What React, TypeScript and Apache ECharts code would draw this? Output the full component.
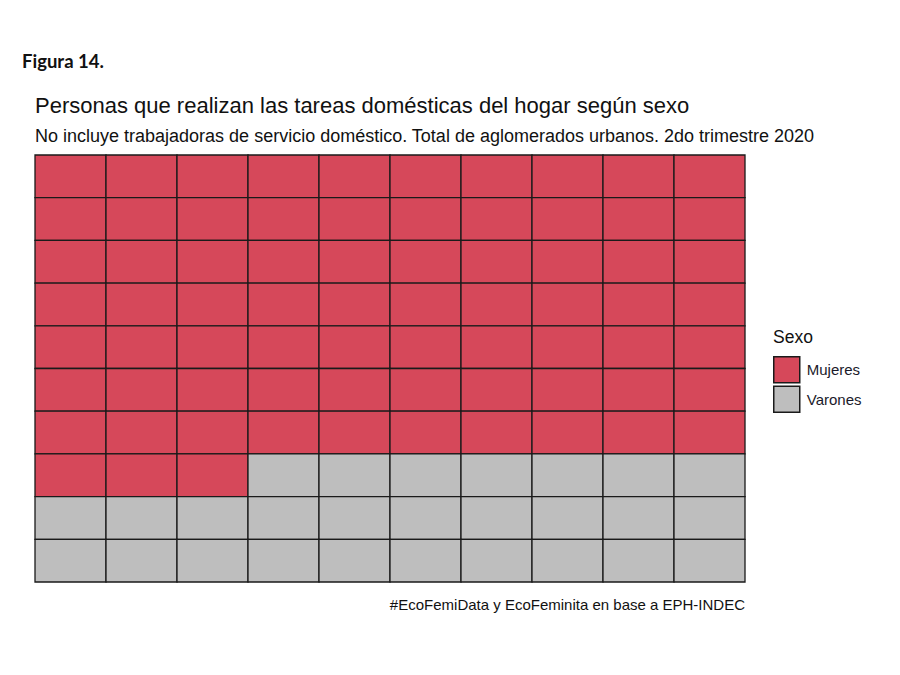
import React, { useEffect, useRef } from "react";
import * as echarts from "echarts";

const categories = ["Mujeres", "Varones"];
const counts = [73, 27];
const colors = ["#D6485A", "#BEBEBE"];
const nCols = 10;
const nRows = 10;
const colLabels = Array.from({ length: nCols }, (_, i) => String(i));
const rowLabels = Array.from({ length: nRows }, (_, i) => String(i));

function buildCells() {
  const out: number[][][] = categories.map(() => []);
  let idx = 0;
  categories.forEach((_, s) => {
    for (let k = 0; k < counts[s]; k++) {
      const row = Math.floor(idx / nCols);
      const col = idx % nCols;
      out[s].push([col, row]);
      idx++;
    }
  });
  return out;
}

export default function App() {
  const ref = useRef<HTMLDivElement>(null);
  useEffect(() => {
    if (!ref.current) return;
    const chart = echarts.init(ref.current, undefined, { renderer: "svg" });
    const cells = buildCells();
    const renderItem = (params: any, api: any) => {
      const c = api.coord([api.value(0), api.value(1)]);
      const s = api.size([1, 1]);
      return {
        type: "rect",
        shape: { x: c[0] - s[0] / 2, y: c[1] - s[1] / 2, width: s[0], height: s[1] },
        style: { fill: api.visual("color"), stroke: "#1a1a1a", lineWidth: 1.3 },
      };
    };
    chart.setOption({
      animation: false,
      backgroundColor: "#ffffff",
      textStyle: { fontFamily: "Liberation Sans" },
      grid: { left: 35, right: 155, top: 155, bottom: 93 },
      xAxis: {
        type: "category",
        data: colLabels,
        show: false,
        boundaryGap: true,
      },
      yAxis: {
        type: "category",
        data: rowLabels,
        inverse: true,
        show: false,
        boundaryGap: true,
      },
      legend: {
        orient: "vertical",
        left: 773,
        top: 356,
        itemWidth: 26,
        itemHeight: 26,
        itemGap: 2,
        icon: "rect",
        padding: 0,
        textStyle: { fontSize: 15, color: "#1a1a2a", fontFamily: "Liberation Sans", padding: [0, 0, 0, 2] },
        itemStyle: { borderColor: "#1a1a1a", borderWidth: 1.5 },
        data: categories,
      },
      graphic: [
        {
          type: "text",
          left: 22,
          top: 51,
          style: { text: "Figura 14.", fontFamily: "Lato", fontWeight: "bold", fontSize: 18.5, fill: "#111" },
        },
        {
          type: "text",
          left: 35,
          top: 94,
          style: {
            text: "Personas que realizan las tareas domésticas del hogar según sexo",
            fontFamily: "Liberation Sans",
            fontSize: 22,
            fill: "#111",
          },
        },
        {
          type: "text",
          left: 35,
          top: 127,
          style: {
            text: "No incluye trabajadoras de servicio doméstico. Total de aglomerados urbanos. 2do trimestre 2020",
            fontFamily: "Liberation Sans",
            fontSize: 18,
            fill: "#111",
          },
        },
        {
          type: "text",
          left: 773,
          top: 328,
          style: { text: "Sexo", fontFamily: "Liberation Sans", fontSize: 17.5, fill: "#111" },
        },
        {
          type: "text",
          right: 155,
          top: 597,
          style: {
            text: "#EcoFemiData y EcoFeminita en base a EPH-INDEC",
            fontFamily: "Liberation Sans",
            fontSize: 15,
            fill: "#111",
          },
        },
      ],
      series: categories.map((name, s) => ({
        name,
        type: "custom",
        renderItem,
        itemStyle: { color: colors[s] },
        encode: { x: 0, y: 1 },
        data: cells[s],
      })),
    });
    return () => chart.dispose();
  }, []);
  return <div ref={ref} style={{ position: "fixed", left: 0, top: 0, width: 900, height: 675 }} />;
}
